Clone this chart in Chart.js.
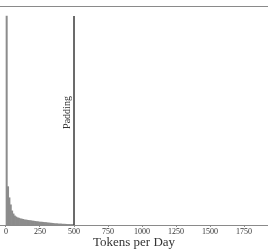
<!DOCTYPE html>
<html>
<head>
<meta charset="utf-8">
<script src="https://cdn.jsdelivr.net/npm/chart.js@4/dist/chart.umd.min.js"></script>
<style>
  html, body { margin: 0; padding: 0; background: #fff; }
  #wrap { width: 268px; height: 252px; }
</style>
</head>
<body>
<div id="wrap"><canvas id="chart"></canvas></div>
<script>
// bin centres (tokens per day, 10-token bins)
const binCenters = [
    5, 15, 25, 35, 45, 55, 65, 75, 85, 95,
    105, 115, 125, 135, 145, 155, 165, 175, 185, 195,
    205, 215, 225, 235, 245, 255, 265, 275, 285, 295,
    305, 315, 325, 335, 345, 355, 365, 375, 385, 395,
    405, 415, 425, 435, 445, 455, 465, 475, 485, 495
];
// days per bin
const dayCounts = [
    2070, 380, 270, 200, 140, 110, 90, 80, 72, 68,
    62, 60, 56, 52, 50, 48, 46, 44, 42, 40,
    38, 36, 34, 32, 30, 29, 28, 27, 25, 24,
    22, 20, 19, 18, 16, 14, 13, 12, 11, 10,
    10, 9, 8, 8, 7, 6, 6, 5, 5, 4
];
const xTicks = [0, 250, 500, 750, 1000, 1250, 1500, 1750];
const paddingAt = 500;

const topRule = {
    id: "topRule",
    afterDraw(chart) {
        const { ctx, chartArea } = chart;
        ctx.save();
        ctx.strokeStyle = "#8a8a8a";
        ctx.lineWidth = 1;
        ctx.beginPath();
        ctx.moveTo(chartArea.left, chartArea.top + 0.5);
        ctx.lineTo(chartArea.right, chartArea.top + 0.5);
        ctx.stroke();

        // rotated label next to the padding line
        const x = chart.scales.x.getPixelForValue(paddingAt);
        ctx.translate(x - 2, (chartArea.top + chartArea.bottom) / 2 - 3);
        ctx.rotate(-Math.PI / 2);
        ctx.fillStyle = "#333";
        ctx.font = "10px 'Liberation Serif', serif";
        ctx.textAlign = "center";
        ctx.textBaseline = "bottom";
        ctx.fillText("Padding", 0, 0);
        ctx.restore();
    }
};

new Chart(document.getElementById("chart").getContext("2d"), {
    type: "bar",
    data: {
        datasets: [{
            type: "line",
            data: [{ x: paddingAt, y: 0 }, { x: paddingAt, y: dayCounts[0] }],
            borderColor: "#3a3a3a",
            borderWidth: 1.5,
            pointRadius: 0,
            order: 0
        }, {
            data: binCenters.map((x, i) => ({ x, y: dayCounts[i] })),
            backgroundColor: "#8c8c8c",
            borderWidth: 0,
            barPercentage: 1,
            categoryPercentage: 1,
            order: 1
        }]
    },
    options: {
        responsive: true,
        maintainAspectRatio: false,
        animation: false,
        layout: { padding: { top: 6, bottom: 1, left: 0, right: 0 } },

        scales: {
            x: {
                type: "linear",
                offset: false,
                min: -44,
                max: 1926,
                afterBuildTicks: axis => {
                    axis.ticks = xTicks.map(value => ({ value }));
                },
                grid: {
                    display: true,
                    offset: false,
                    drawOnChartArea: false,
                    drawTicks: true,
                    tickLength: 2,
                    color: "#8a8a8a"
                },
                border: { color: "#8a8a8a", width: 1 },
                ticks: {
                    autoSkip: false,
                    maxRotation: 0,
                    padding: 1,
                    color: "#333",
                    callback: value => String(value),
                    font: { family: "'Liberation Serif', serif", size: 8, lineHeight: 1 }
                },
                title: {
                    display: true,
                    text: "Tokens per Day",
                    color: "#333",
                    padding: { top: -1, bottom: 2 },
                    font: { family: "'Liberation Serif', serif", size: 13, lineHeight: 1 }
                }
            },
            y: {
                display: false,
                min: 0,
                max: 2170
            }
        },

        plugins: {
            legend: { display: false },
            tooltip: { enabled: false }
        }
    },
    plugins: [topRule]
});
</script>
</body>
</html>
